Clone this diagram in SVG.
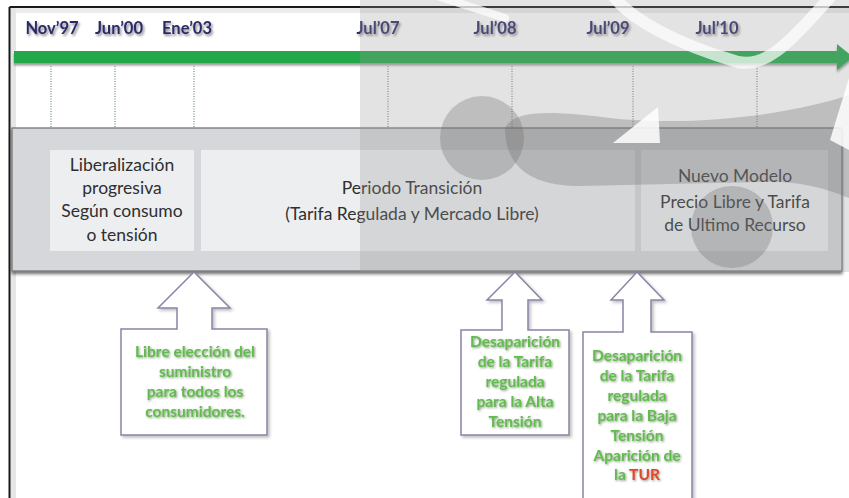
<svg xmlns="http://www.w3.org/2000/svg" width="849" height="498" viewBox="0 0 849 498">
<defs>
<style>
.date{font-family:Lato,"Liberation Sans",sans-serif;font-weight:bold;font-size:16.5px;fill:#2c2b69;text-anchor:middle;filter:url(#tshadow)}
.band{font-family:Lato,"Liberation Sans",sans-serif;font-size:17.5px;fill:#2f2f2f;text-anchor:middle}
.call{font-family:Lato,"Liberation Sans",sans-serif;font-weight:bold;font-size:15.5px;fill:#62bc4e;text-anchor:middle;filter:url(#gshadow)}
.tur{fill:#e2452b}
.tick{stroke:#a9b8c0;stroke-width:2;stroke-dasharray:1 1.5;fill:none}
.callout{fill:#fff;stroke:#8b82a6;stroke-width:1.5;filter:url(#soft)}
.inner{fill:#eceeef}
.wmL{fill:#9a9a9a;opacity:0.28}
.wmD{fill:#6a6a6a;opacity:0.3}
.wmW{fill:none;stroke:#fff;opacity:0.7;stroke-linecap:round}
</style>
<filter id="tshadow" x="-20%" y="-30%" width="150%" height="180%">
<feDropShadow dx="1.5" dy="2" stdDeviation="1.2" flood-color="#000" flood-opacity="0.45"/>
</filter>
<filter id="gshadow" x="-20%" y="-30%" width="150%" height="180%">
<feDropShadow dx="1" dy="1" stdDeviation="1" flood-color="#2a4a20" flood-opacity="0.55"/>
</filter>
<filter id="soft" x="-10%" y="-10%" width="130%" height="130%">
<feDropShadow dx="2" dy="2" stdDeviation="1.5" flood-color="#000" flood-opacity="0.25"/>
</filter>
<filter id="bandsh" x="-5%" y="-10%" width="110%" height="125%">
<feDropShadow dx="0" dy="2.5" stdDeviation="1.5" flood-color="#000" flood-opacity="0.55"/>
</filter>
<filter id="arrsh" x="-5%" y="-50%" width="110%" height="250%">
<feDropShadow dx="0" dy="2.5" stdDeviation="1.2" flood-color="#000" flood-opacity="0.4"/>
</filter>
</defs>

<rect x="0" y="0" width="849" height="498" fill="#fff"/>

<!-- frame -->
<g id="frame">
<rect x="10" y="8" width="6" height="490" fill="#dcdcdc" opacity="0.7"/>
<rect x="10" y="8" width="839" height="5" fill="#e4e4e4" opacity="0.7"/>
<line x1="9.5" y1="7" x2="849" y2="7" stroke="#1a1a1a" stroke-width="2"/>
<line x1="9.5" y1="7" x2="9.5" y2="498" stroke="#1a1a1a" stroke-width="2"/>
</g>

<!-- timeline -->
<g id="timeline">
<g filter="url(#arrsh)">
<rect x="14" y="51" width="826" height="12" fill="#22a84a"/>
<polygon points="837,44 853,57 837,70" fill="#22a84a"/>
</g>
<line class="tick" x1="51" y1="66" x2="51" y2="128"/>
<line class="tick" x1="115" y1="66" x2="115" y2="128"/>
<line class="tick" x1="194" y1="66" x2="194" y2="128"/>
<line class="tick" x1="388" y1="66" x2="388" y2="128"/>
<line class="tick" x1="512" y1="66" x2="512" y2="128"/>
<line class="tick" x1="633" y1="66" x2="633" y2="128"/>
<line class="tick" x1="757" y1="66" x2="757" y2="128"/>
<text class="date" x="52" y="34">Nov’97</text>
<text class="date" x="119" y="34">Jun’00</text>
<text class="date" x="187" y="34">Ene’03</text>
<text class="date" x="378" y="34">Jul’07</text>
<text class="date" x="495" y="34">Jul’08</text>
<text class="date" x="608" y="34">Jul’09</text>
<text class="date" x="717" y="34">Jul’10</text>
</g>

<!-- band -->
<g id="band">
<rect x="12" y="128" width="830" height="143" fill="#d5d7da" stroke="#6f6f6f" stroke-width="1.2" filter="url(#bandsh)"/>
</g>

<g id="phase1">
<rect class="inner" x="50" y="150" width="144" height="101"/>
<text class="band" x="122" y="171">Liberalización</text>
<text class="band" x="122" y="194">progresiva</text>
<text class="band" x="122" y="217">Según consumo</text>
<text class="band" x="122" y="241">o tensión</text>
</g>
<g id="phase2">
<rect class="inner" x="201" y="150" width="434" height="101"/>
<text class="band" x="412" y="194">Periodo Transición</text>
<text class="band" x="412" y="220">(Tarifa Regulada y Mercado Libre)</text>
</g>
<g id="phase3">
<rect class="inner" x="641" y="150" width="187" height="101"/>
<text class="band" x="735" y="182">Nuevo Modelo</text>
<text class="band" x="735" y="208">Precio Libre y Tarifa</text>
<text class="band" x="735" y="231">de Ultimo Recurso</text>
</g>

<!-- callouts -->
<g id="callout1">
<path class="callout" d="M194,272 L230,308 L212,308 L212,329 L267,329 L267,435 L121,435 L121,329 L177,329 L177,308 L158,308 Z"/>
<text class="call" x="195" y="357">Libre elección del</text>
<text class="call" x="195" y="377">suministro</text>
<text class="call" x="195" y="397">para todos los</text>
<text class="call" x="195" y="417">consumidores.</text>
</g>
<g id="callout2">
<path class="callout" d="M515,272 L542,300 L528,300 L528,330 L569,330 L569,435 L461,435 L461,330 L502,330 L502,300 L487,300 Z"/>
<text class="call" x="515" y="347">Desaparición</text>
<text class="call" x="515" y="367">de la Tarifa</text>
<text class="call" x="515" y="387">regulada</text>
<text class="call" x="515" y="407">para la Alta</text>
<text class="call" x="515" y="427">Tensión</text>
</g>
<g id="callout3">
<path class="callout" d="M637,272 L664,300 L651,300 L651,332 L692,332 L692,510 L583,510 L583,332 L623,332 L623,300 L611,300 Z"/>
<text class="call" x="637" y="361">Desaparición</text>
<text class="call" x="637" y="381">de la Tarifa</text>
<text class="call" x="637" y="401">regulada</text>
<text class="call" x="637" y="421">para la Baja</text>
<text class="call" x="637" y="441">Tensión</text>
<text class="call" x="637" y="461">Aparición de</text>
<text class="call" x="637" y="480">la <tspan class="tur">TUR</tspan></text>
</g>

<!-- watermark -->
<g id="watermark">
<path class="wmL" d="M360,0 L849,0 L849,272 L360,272 Z"/>
<circle class="wmD" cx="482" cy="138" r="42"/>
<path class="wmD" d="M505,128 C505,170 535,186 580,186 L760,182 C800,180 830,190 849,198 L849,95 C800,112 700,128 610,118 C560,112 515,108 505,128 Z"/>
<circle class="wmD" cx="732" cy="227" r="41"/>
<path class="wmW" stroke-width="12" d="M612,-6 C628,18 676,44 738,62 C764,67 784,50 832,-5"/>
<path class="wmW" stroke-width="8" d="M440,-3 L505,18"/>
<polygon points="613,143 658,107 660,143" fill="#fff" opacity="0.85"/>
<polygon points="849,78 830,140 849,150" fill="#fff" opacity="0.85"/>
</g>
</svg>
